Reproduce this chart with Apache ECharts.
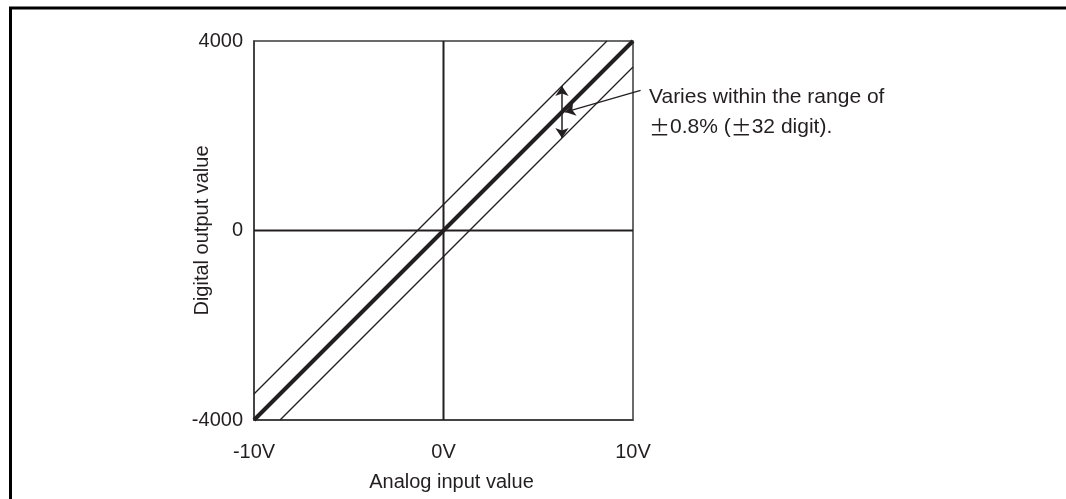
<!DOCTYPE html>
<html>
<head>
<meta charset="utf-8">
<script src="https://cdn.jsdelivr.net/npm/echarts@6/dist/echarts.min.js"></script>
<style>html,body{margin:0;padding:0;background:#fff}#c{width:1066px;height:499px}</style>
</head>
<body>
<div id="c"></div>
<script>
// Axis ticks
const xTicks = [-10, 0, 10];          // V
const yTicks = [-4000, 0, 4000];      // digit
const xTickLabels = ['-10V', '0V', '10V'];
const yTickLabels = ['-4000', '0', '4000'];
// Characteristic lines (analog V, digital value)
const idealLine = [[-10, -4000], [10, 4000]];
const upperLine = [[-10, -3450], [8.625, 4000]];
const lowerLine = [[-8.625, -4000], [10, 3450]];
// Zero axes
const zeroV = [[0, -4000], [0, 4000]];
const zeroD = [[-10, 0], [10, 0]];
// Annotation geometry (data coords): range arrow centre, top, bottom
const rangeMid = [6.25, 2500];
const rangeTop = [6.25, 3050];
const rangeBottom = [6.25, 1950];
const leader = [[10.4, 2960], [6.42, 2500]];
const noteLine1 = 'Varies within the range of';
const noteLine2 = ['\u00b1', '0.8% (', '\u00b1', '32 digit).'];

const ink = '#231f20';
const font = 'Liberation Sans, Arial, sans-serif';
const chart = echarts.init(document.getElementById('c'));
chart.setOption({
  animation: false,
  grid: { left: 254, top: 41, width: 379, height: 379, show: true, borderColor: '#3a3a3a', borderWidth: 1.5, backgroundColor: 'transparent' },
  xAxis: {
    type: 'value', min: xTicks[0], max: xTicks[2], interval: 10,
    axisLine: { show: true, onZero: false, lineStyle: { color: '#3a3a3a', width: 1.5 } },
    axisTick: { show: false }, splitLine: { show: false },
    axisLabel: { margin: 22, color: ink, fontSize: 20, fontFamily: font,
      formatter: v => xTickLabels[xTicks.indexOf(v)] },
    name: 'Analog input value', nameLocation: 'middle', nameGap: 52, nameMoveOverlap: false,
    nameTextStyle: { color: ink, fontSize: 20, fontFamily: font, padding: [0, 0, 0, 16] }
  },
  yAxis: {
    type: 'value', min: yTicks[0], max: yTicks[2], interval: 4000,
    axisLine: { show: true, onZero: false, lineStyle: { color: '#3a3a3a', width: 1.5 } },
    axisTick: { show: false }, splitLine: { show: false },
    axisLabel: { margin: 11, color: ink, fontSize: 20, fontFamily: font,
      formatter: v => yTickLabels[yTicks.indexOf(v)] },
    name: 'Digital output value', nameLocation: 'middle', nameGap: 42, nameRotate: 90, nameMoveOverlap: false,
    nameTextStyle: { color: ink, fontSize: 20, fontFamily: font }
  },
  graphic: [
    { type: 'rect', shape: { x: 10.5, y: 8, width: 1070, height: 520 }, style: { fill: 'none', stroke: '#000', lineWidth: 3 }, silent: true },
    { type: 'text', left: 649, top: 82, style: {
        text: noteLine1 + '\n' + '{pm|' + noteLine2[0] + '}' + noteLine2[1] + '{pm|' + noteLine2[2] + '}' + noteLine2[3],
        fill: ink, fontSize: 21, fontFamily: font, lineHeight: 30,
        rich: { pm: { fontFamily: 'Noto Sans CJK JP', fontSize: 21, fill: ink, lineHeight: 30 } } } }
  ],
  series: [
    { type: 'line', data: zeroV, symbol: 'none', lineStyle: { color: ink, width: 2 }, z: 1 },
    { type: 'line', data: zeroD, symbol: 'none', lineStyle: { color: ink, width: 2 }, z: 1 },
    { type: 'line', data: upperLine, symbol: 'none', lineStyle: { color: ink, width: 1.3 }, z: 2 },
    { type: 'line', data: lowerLine, symbol: 'none', lineStyle: { color: ink, width: 1.3 }, z: 2 },
    { type: 'line', data: idealLine, symbol: 'none', lineStyle: { color: ink, width: 4 }, z: 3 },
    {
      type: 'lines', coordinateSystem: 'cartesian2d', clip: false, z: 4,
      symbol: ['none', 'arrow'], symbolSize: [6, 10],
      lineStyle: { color: ink, width: 1.5, opacity: 1 },
      data: [{ coords: [rangeMid, rangeTop] }, { coords: [rangeMid, rangeBottom] }]
    },
    {
      type: 'lines', coordinateSystem: 'cartesian2d', clip: false, z: 4,
      symbol: ['none', 'arrow'], symbolSize: [6, 10],
      lineStyle: { color: ink, width: 1.3, opacity: 1 },
      data: [{ coords: leader }]
    }
  ]
});
</script>
</body>
</html>
